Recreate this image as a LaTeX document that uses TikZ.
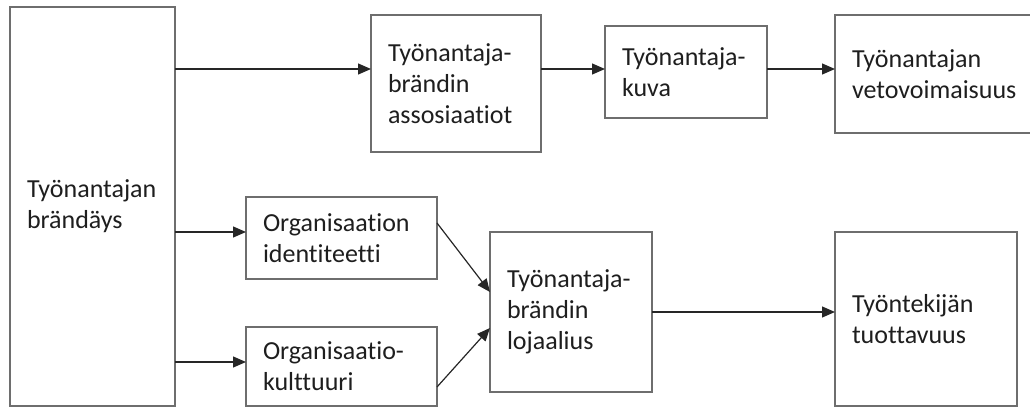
\documentclass[tikz,border=0pt]{standalone}
\usepackage{fontspec}
\setmainfont{Carlito}[Ligatures=NoCommon]
\usepackage{tikz}
\usetikzlibrary{arrows.meta}
\definecolor{boxgray}{HTML}{6E6E6E}
\definecolor{textgray}{HTML}{1E1E1E}
\hyphenpenalty=10000
\exhyphenpenalty=10000

\begin{document}
\begin{tikzpicture}[x=0.5pt, y=-0.5pt,
    box/.style={draw=boxgray, line width=0.75pt, rectangle, anchor=north west,
      align=left, inner xsep=8.5pt, inner ysep=0pt, outer sep=0pt,
      text=textgray, font=\fontsize{13}{15.5}\selectfont},
    link/.style={draw=black!85, line width=0.6pt,
      -{Triangle[length=6.5pt, width=5.5pt]}}]
    \useasboundingbox (0,0) rectangle (1030,407);

    % draw boxes
    \node[box, text width=65.5pt, minimum height=199.5pt] (brand) at (10,7) {Työnantajan\\brändäys};
    \node[box, text width=68pt, minimum height=68.5pt] (assoc) at (371,15) {Työnantaja-\\brändin\\assosiaatiot};
    \node[box, text width=64pt, minimum height=46pt] (image) at (605,26) {Työnantaja-\\kuva};
    \node[box, text width=84pt, minimum height=59pt] (appeal) at (835,15) {Työnantajan\\vetovoimaisuus};
    \node[box, text width=78.5pt, minimum height=41pt] (ident) at (246,197) {Organisaation\\identiteetti};
    \node[box, text width=78.5pt, minimum height=39.5pt] (culture) at (246,327) {Organisaatio-\\kulttuuri};
    \node[box, text width=64pt, minimum height=80pt] (loyal) at (490,232) {Työnantaja-\\brändin\\lojaalius};
    \node[box, text width=74pt, minimum height=87pt] (prod) at (835,232) {Työntekijän\\tuottavuus};

    % rows of the arrows
    \coordinate (row1) at (0,69);
    \coordinate (row2) at (0,232);
    \coordinate (row3) at (0,362);
    \coordinate (identout) at (0,223);
    \coordinate (identin) at (0,292);
    \coordinate (cultout) at (0,387);
    \coordinate (cultin) at (0,328);

    % draw arrows
    \draw[link] (brand.east |- row1) -- (assoc.west |- row1);
    \draw[link] (assoc.east |- row1) -- (image.west |- row1);
    \draw[link] (image.east |- row1) -- (appeal.west |- row1);
    \draw[link] (brand.east |- row2) -- (ident.west |- row2);
    \draw[link] (brand.east |- row3) -- (culture.west |- row3);
    \draw[link] (ident.east |- identout) -- (loyal.west |- identin);
    \draw[link] (culture.east |- cultout) -- (loyal.west |- cultin);
    \draw[link] (loyal.east) -- (loyal.east -| prod.west);
\end{tikzpicture}
\end{document}
